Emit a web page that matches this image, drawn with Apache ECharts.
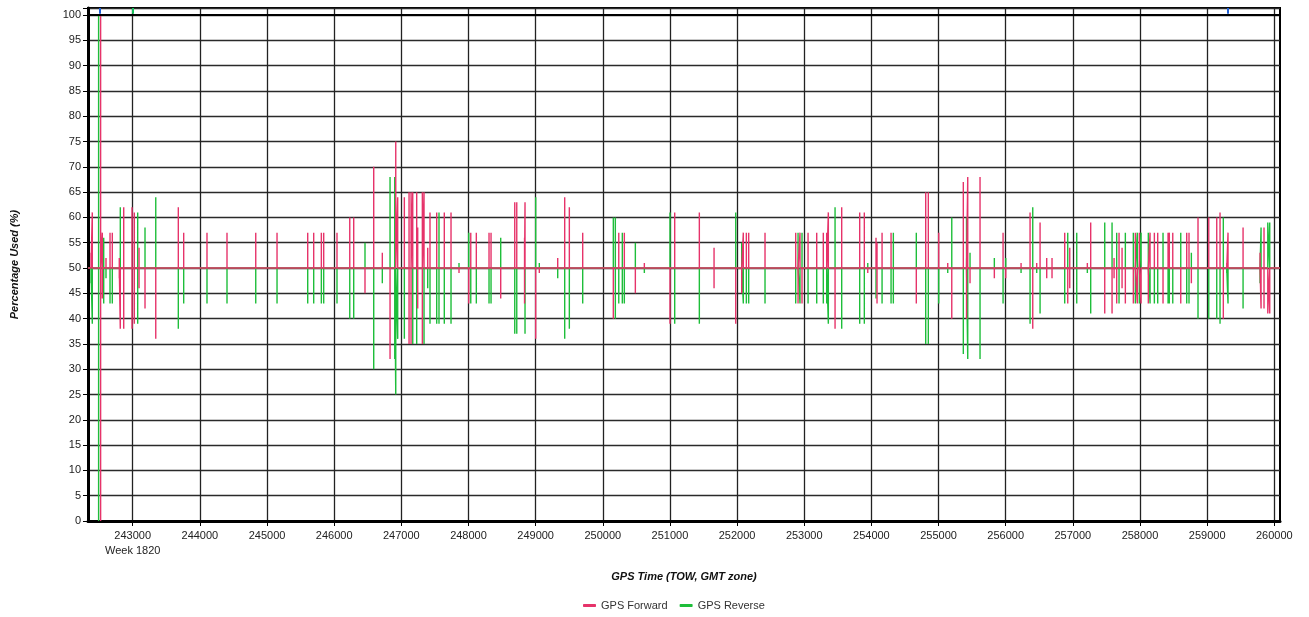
<!DOCTYPE html>
<html>
<head>
<meta charset="utf-8">
<script src="https://cdn.jsdelivr.net/npm/echarts@6/dist/echarts.min.js"></script>
<style>
html,body{margin:0;padding:0;background:#fff;}
#chart{width:1309px;height:617px;}
</style>
</head>
<body>
<div id="chart"></div>
<script>
// ---- data ----
const xMin = 242334, xMax = 260085;
const xTickLabels = [243000,244000,245000,246000,247000,248000,249000,250000,251000,252000,253000,254000,255000,256000,257000,258000,259000,260000];
const weekLabel = 'Week 1820';
const baseLevel = 50;

const spikeTime = [242379,242398,242492,242522,242547,242568,242602,242662,242696,242800,242815,242866,242990,243024,243074,243094,243183,243343,243679,243759,
244106,244404,244832,245149,245606,245695,245809,245844,246042,246232,246291,246459,246589,246717,246832,246902,246917,246946,247045,247115,
247145,247170,247229,247244,247313,247338,247393,247427,247527,247561,247640,247740,247859,248004,248034,248117,248306,248336,248480,248689,
248719,248835,248842,249001,249055,249329,249433,249502,249701,250157,250187,250238,250291,250321,250485,250619,251001,251071,251438,251657,
251980,252069,252093,252138,252173,252416,252873,252908,252937,252967,253057,253186,253284,253335,253359,253459,253558,253826,253895,253946,
254069,254084,254159,254293,254327,254669,254809,254848,255003,255137,255197,255369,255417,255435,255469,255618,255831,255961,256001,256229,
256363,256403,256462,256512,256611,256690,256879,256924,256954,257058,257216,257266,257475,257584,257614,257653,257688,257733,257782,257901,
257931,257960,257990,258016,258124,258150,258214,258264,258343,258418,258437,258488,258607,258696,258730,258765,258864,259024,259143,259192,
259241,259292,259311,259535,259788,259803,259847,259903,259932];

const fwdPeak = [[53],[61],[],[100,0],[57,44],[],[52],[57],[57],[52,48],[38],[62,38],[62,38],[61,39],[],[54,46],[42],[36],[62],[57],
[57],[57],[57],[57],[57],[57],[57],[57],[57],[60],[60],[45],[70],[53],[32],[],[75],[64],[64],[65,35],
[65,35],[65],[65],[58,42],[65,35],[65],[54],[61],[61],[],[61],[61],[49],[43],[57],[57],[57],[57],[44],[63],
[63],[56,43],[63],[36],[49],[52],[64],[62],[57],[40],[],[57],[],[57],[45],[51],[39],[61],[61],[54,46],
[39],[45],[57],[57],[57],[57],[57],[43],[57],[43],[57],[57],[57],[57],[61],[38],[62],[61],[61],[49],
[56],[55,43],[57],[57],[],[43],[65],[65],[57],[51],[40],[67],[40],[68],[47],[68],[48],[57],[48],[51],
[61],[38],[51],[59],[52,48],[52,48],[57],[43],[54,46],[],[51],[59],[41],[41],[52,48],[43],[57],[54,46],[43],[43],
[57],[43],[57],[43],[43],[57],[57],[57],[43],[57],[57],[57],[43],[57],[57],[47],[60],[60],[60],[61],
[40],[51],[57],[58],[53],[42],[58,42],[41],[41]];

const revPeak = [[47],[39],[0,100],[],[],[56,43],[48],[43],[43],[],[62],[],[],[],[61,39],[],[58],[64],[38],[43],
[43],[43],[43],[43],[43],[43],[43],[43],[43],[40],[40],[55],[30],[47],[68],[68,32],[25],[36],[36],[],
[],[35],[35],[],[],[35],[46],[39],[39],[61,39],[39],[39],[51],[57],[43],[43],[43],[43],[56],[37],
[37],[],[37],[64],[51],[48],[36],[38],[43],[60],[60,40],[43],[57,43],[43],[55],[49],[61],[39],[39],[],
[61],[55],[43],[43],[43],[43],[43],[57],[43],[57],[43],[43],[43],[43],[39],[62],[38],[39],[39],[51],
[44],[],[43],[43],[57,43],[57],[35],[35],[43],[49],[60],[33],[60],[32],[53],[32],[52],[43],[52],[49],
[39],[62],[49],[41],[],[],[43],[57],[],[57,43],[49],[41],[59],[59],[],[57],[43],[],[57],[57],
[43],[57],[43],[57],[57],[43],[43],[43],[57],[43],[43],[43],[57],[43],[43],[53],[40],[40],[40],[39],
[60],[49],[43],[42],[47],[58],[],[59],[59]];

const topMarkTime = [242513, 242994, 259311];
const topMarkColor = ['#1f5fd6', '#16c25a', '#1f5fd6'];

// ---- build line data ----
function buildLine(peaks) {
  const out = [[xMin, baseLevel]];
  for (let i = 0; i < spikeTime.length; i++) {
    const p = peaks[i];
    if (!p.length) continue;
    const t = spikeTime[i];
    out.push([t, baseLevel]);
    p.forEach(v => out.push([t, v]));
    out.push([t, baseLevel]);
  }
  out.push([xMax, baseLevel]);
  return out;
}

const fwdColor = '#e6336a';
const revColor = '#1ebe3a';

const markData = topMarkTime.map((t, i) => [
  {coord: [t, 100.25], lineStyle: {color: topMarkColor[i], width: 2, type: 'solid'}},
  {coord: [t, 101.4]}
]);
markData.push([
  {coord: [xMin, 100], lineStyle: {color: '#000', width: 2, type: 'solid'}},
  {coord: [xMax, 100]}
]);

const chart = echarts.init(document.getElementById('chart'), null, {renderer: 'canvas'});
chart.setOption({
  animation: false,
  backgroundColor: '#fff',
  textStyle: {fontFamily: 'Liberation Sans, Arial, sans-serif'},
  grid: {left: 88, right: 29, top: 8, bottom: 96, show: true, borderColor: '#000', borderWidth: 2, containLabel: false},
  legend: {
    top: 595, left: 578,
    data: ['GPS Forward', 'GPS Reverse'],
    icon: 'roundRect', itemWidth: 13, itemHeight: 3, itemGap: 12,
    textStyle: {fontSize: 11, color: '#333'}
  },
  xAxis: {
    type: 'value', min: xMin, max: xMax,
    name: 'GPS Time (TOW, GMT zone)', nameLocation: 'middle', nameGap: 50,
    nameTextStyle: {fontSize: 11, fontWeight: 'bold', fontStyle: 'italic', color: '#111'},
    axisLine: {show: true, onZero: false, lineStyle: {color: '#000', width: 3}},
    axisTick: {show: true, length: 5, customValues: xTickLabels, lineStyle: {color: '#000', width: 1}},
    axisLabel: {customValues: xTickLabels, fontSize: 11, color: '#222', margin: 7, lineHeight: 15,
      formatter: v => v === xTickLabels[0] ? v + '\n' + weekLabel : String(v)},
    splitLine: {show: true, lineStyle: {color: '#222', width: 1.3}}
  },
  yAxis: {
    type: 'value', min: 0, max: 101.4, interval: 5,
    name: 'Percentage Used (%)', nameLocation: 'middle', nameGap: 68, nameRotate: 90,
    nameTextStyle: {fontSize: 11, fontWeight: 'bold', fontStyle: 'italic', color: '#111'},
    axisLine: {show: true, lineStyle: {color: '#000', width: 3}},
    axisTick: {show: true, length: 5, lineStyle: {color: '#000', width: 1}},
    axisLabel: {fontSize: 11, color: '#222', margin: 7,
      formatter: v => (Math.abs(v % 5) < 1e-9 && v <= 100) ? String(v) : ''},
    splitLine: {show: true, lineStyle: {color: '#2a2a2a', width: 1.3}}
  },
  series: [
    {
      name: 'GPS Reverse', type: 'line', data: buildLine(revPeak),
      showSymbol: false, symbol: 'none', sampling: false, z: 3,
      color: revColor, lineStyle: {color: revColor, width: 1.4}
    },
    {
      name: 'GPS Forward', type: 'line', data: buildLine(fwdPeak),
      showSymbol: false, symbol: 'none', z: 4,
      color: fwdColor, lineStyle: {color: fwdColor, width: 1.4},
      markLine: {silent: true, symbol: 'none', animation: false, label: {show: false}, data: markData}
    }
  ]
});
</script>
</body>
</html>
